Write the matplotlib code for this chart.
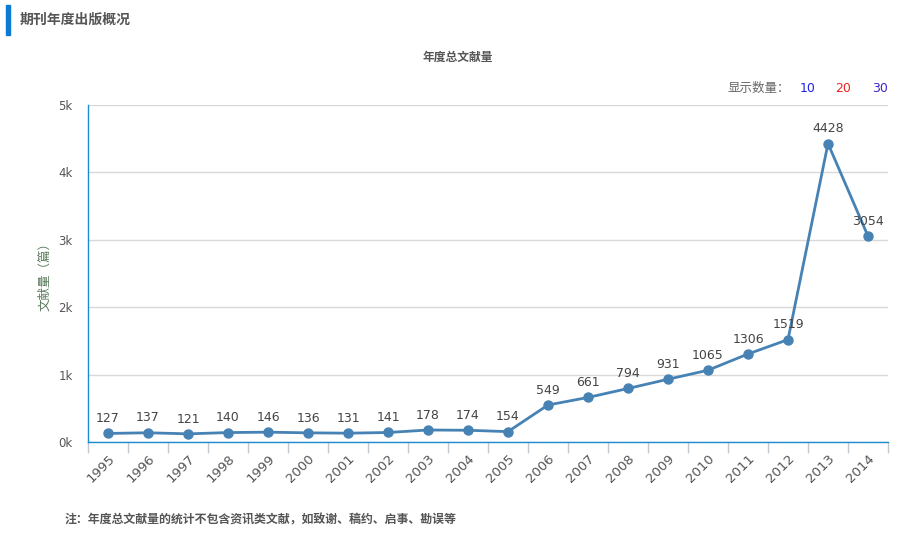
import matplotlib
matplotlib.use("Agg")
import matplotlib.pyplot as plt
from matplotlib.patches import Rectangle

plt.rcParams['font.family'] = ['Noto Sans CJK SC', 'DejaVu Sans']

years = ['1995', '1996', '1997', '1998', '1999', '2000', '2001', '2002', '2003', '2004',
         '2005', '2006', '2007', '2008', '2009', '2010', '2011', '2012', '2013', '2014']
counts = [127, 137, 121, 140, 146, 136, 131, 141, 178, 174,
          154, 549, 661, 794, 931, 1065, 1306, 1519, 4428, 3054]
yticks = [0, 1000, 2000, 3000, 4000, 5000]
yticklabels = ['0k', '1k', '2k', '3k', '4k', '5k']

W, H = 901, 538
fig = plt.figure(figsize=(W / 100, H / 100), dpi=100)
fig.patch.set_facecolor('white')

x0, x1 = 88, 888
ytop, ybot = 105, 442
ax = fig.add_axes([x0 / W, 1 - ybot / H, (x1 - x0) / W, (ybot - ytop) / H])

xs = list(range(len(years)))
ax.plot(xs, counts, color='#4682b4', lw=2, marker='o', ms=6.5, zorder=3, clip_on=False)
for x, v in zip(xs, counts):
    ax.annotate(str(v), (x, v), xytext=(0, 6), textcoords='offset points',
                ha='center', va='bottom', fontsize=9, color='#444444',
                family='DejaVu Sans')

ax.set_xlim(-0.5, len(years) - 0.5)
ax.set_ylim(0, 5000)
ax.set_yticks(yticks)
ax.set_yticklabels(yticklabels, fontsize=8.5, color='#555555', family='DejaVu Sans')
ax.grid(axis='y', color='#d9d9d9', lw=1)
ax.set_axisbelow(True)

ax.set_xticks(xs)
ax.set_xticklabels(years, rotation=45, ha='right', rotation_mode='anchor',
                   fontsize=9.5, color='#555555', family='DejaVu Sans')
ax.tick_params(axis='x', length=0, pad=7)
ax.set_xticks([i - 0.5 for i in range(len(years) + 1)], minor=True)
ax.tick_params(axis='x', which='minor', length=8, color='#c0c8d0', width=1)
ax.tick_params(axis='y', length=0, pad=11)

for s in ['top', 'right']:
    ax.spines[s].set_visible(False)
ax.spines['left'].set_color('#1a8ccf')
ax.spines['bottom'].set_color('#1a8ccf')
ax.spines['left'].set_linewidth(1)
ax.spines['bottom'].set_linewidth(1)

ax.set_ylabel('文献量（篇）', fontsize=9, color='#5a7a5a', labelpad=5)

# header
fig.patches.append(Rectangle((6 / W, 1 - 35 / H), 4 / W, 30 / H,
                             transform=fig.transFigure, color='#0a7ad4'))
fig.text(20 / W, 1 - 20 / H, '期刊年度出版概况', fontsize=10, fontweight='bold',
         color='#555555', va='center', ha='left')
fig.text(458 / W, 1 - 57 / H, '年度总文献量', fontsize=8.5, fontweight='bold',
         color='#555555', va='center', ha='center')
fig.text(790 / W, 1 - 88 / H, '显示数量：', fontsize=9, color='#666666',
         va='center', ha='right')
fig.text(808 / W, 1 - 88 / H, '10', fontsize=9, color='#2222ee', va='center', ha='center',
         family='DejaVu Sans')
fig.text(843 / W, 1 - 88 / H, '20', fontsize=9, color='#ee2222', va='center', ha='center',
         family='DejaVu Sans')
fig.text(880 / W, 1 - 88 / H, '30', fontsize=9, color='#4422cc', va='center', ha='center',
         family='DejaVu Sans')
fig.text(65 / W, 1 - 520 / H, '注：年度总文献量的统计不包含资讯类文献，如致谢、稿约、启事、勘误等',
         fontsize=8.6, fontweight='bold', color='#555555', va='center', ha='left')

fig.savefig('out.png', dpi=100, facecolor='white')
